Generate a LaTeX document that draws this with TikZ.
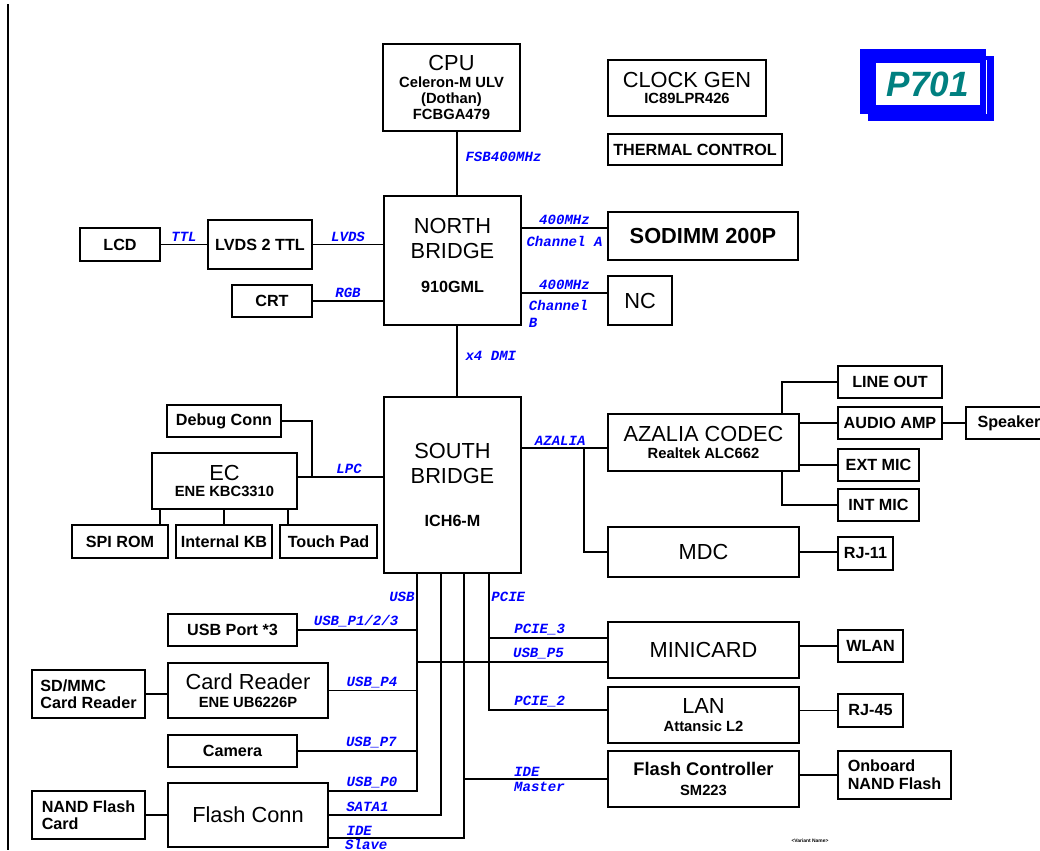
\documentclass[tikz,border=0pt]{standalone}
\usepackage{fontspec}
\setmainfont{Liberation Sans}
\newfontfamily\sigfont{Liberation Mono}
\usetikzlibrary{calc, positioning}
\definecolor{logoTeal}{RGB}{0,128,128}
\newcommand{\pxu}{0.025cm}
\newcommand{\tBig}{\fontsize{15.5}{17}\selectfont\mdseries}
\newcommand{\tMid}{\fontsize{11.5}{12.5}\selectfont\bfseries}
\newcommand{\tSub}{\fontsize{10.5}{11.5}\selectfont\bfseries}
\newcommand{\tNum}{\fontsize{11.5}{12.5}\selectfont\bfseries}
\newcommand{\tFc}{\fontsize{13}{14}\selectfont\bfseries}
\tikzset{
    blk/.style={draw, line width=1.2pt, fill=white, inner sep=1pt, align=center, font=\tMid},
    wire/.style={line width=1.1pt},
    sig/.style={text=blue, inner sep=1.5pt, align=left, font=\sigfont\fontsize{10}{10.5}\selectfont\bfseries\itshape},
}
\newcommand{\blkBox}[7][]{
    \node[blk, minimum width={(#5-#3)*\pxu}, minimum height={(#6-#4)*\pxu}, #1] (#2) at ({(#3+#5)/2}, {(#4+#6)/2}) {#7};
}

\begin{document}
\begin{tikzpicture}[x=0.025cm, y=-0.025cm]
    \useasboundingbox (0,0) rectangle (1040,850);

    % page frame and logo
    \draw[line width=1pt] (8,4) -- (8,850);
    \fill[blue] (868,56) rectangle (994,121);
    \fill[blue] (860,49) rectangle (986,114);
    \draw[white, line width=0.8pt] (986.5,60) -- (986.5,114);
    \fill[white] (876,63) rectangle (980,105);
    \node[text=logoTeal, font=\fontsize{25}{28}\selectfont\bfseries\itshape] (logo) at (928,84) {P701};

    % host side
    \blkBox{cpu}{383}{44}{520}{131}{{\tBig CPU}\\{\tSub Celeron-M ULV}\\[-1.2pt]{\tSub (Dothan)}\\[-1.2pt]{\tSub FCBGA479}}
    \blkBox{clk}{608}{60}{766}{116}{{\tBig CLOCK GEN}\\[-0.5pt]{\tSub IC89LPR426}}
    \blkBox{therm}{608}{134}{782}{165}{THERMAL CONTROL}
    \blkBox{nb}{384}{196}{521}{325}{{\tBig NORTH}\\[5.2pt]{\tBig BRIDGE}\\[11.5pt]{\tNum 910GML}\\[-5.5pt]{}}
    \blkBox{lcd}{80}{228}{160}{261}{LCD}
    \blkBox{lvds}{208}{220}{312}{269}{LVDS 2 TTL}
    \blkBox{crt}{232}{285}{312}{317}{CRT}
    \blkBox{sodimm}{608}{212}{798}{260}{{\tBig\bfseries SODIMM 200P}}
    \blkBox{nc}{608}{276}{672}{325}{{\tBig NC}}
    \blkBox{sb}{384}{397}{521}{573}{{\tBig SOUTH}\\[5.2pt]{\tBig BRIDGE}\\[18pt]{\tNum ICH6-M}}

    % EC side
    \blkBox{dbg}{167}{405}{281}{437}{Debug Conn}
    \blkBox{ec}{152}{453}{297}{509}{{\tBig EC}\\[-1.2pt]{\tSub ENE KBC3310}}
    \blkBox{spi}{72}{525}{168}{558}{SPI ROM}
    \blkBox{kb}{176}{525}{272}{558}{Internal KB}
    \blkBox{tp}{280}{525}{377}{558}{Touch Pad}

    % audio / modem
    \blkBox{codec}{608}{414}{799}{471}{{\tBig AZALIA CODEC}\\{\tSub Realtek ALC662}}
    \blkBox{mdc}{608}{527}{799}{577}{{\tBig MDC}}
    \blkBox{lineout}{838}{366}{942}{398}{LINE OUT}
    \blkBox{amp}{838}{407}{942}{439}{AUDIO AMP}
    \blkBox{spk}{966}{407}{1052}{439}{Speaker}
    \blkBox{extmic}{838}{449}{919}{481}{EXT MIC}
    \blkBox{intmic}{838}{489}{919}{521}{INT MIC}
    \blkBox{rj11}{838}{537}{893}{570}{RJ-11}

    % usb / storage
    \blkBox{usbp}{168}{614}{297}{646}{USB Port *3}
    \blkBox{cr}{168}{663}{328}{718}{{\tBig Card Reader}\\{\tSub ENE UB6226P}}
    \blkBox[align=left]{sdmmc}{32}{670}{145}{718}{SD/MMC\\[-0.5pt]Card Reader}
    \blkBox{cam}{168}{735}{297}{767}{Camera}
    \blkBox{fconn}{168}{783}{328}{847}{{\tBig Flash Conn}}
    \blkBox[align=left]{nand}{32}{791}{145}{839}{NAND Flash\\[-0.5pt]Card}

    % pcie side
    \blkBox{mini}{608}{622}{799}{678}{{\tBig MINICARD}}
    \blkBox{wlan}{838}{630}{903}{662}{WLAN}
    \blkBox{lan}{608}{687}{799}{743}{{\tBig LAN}\\{\tSub Attansic L2}}
    \blkBox{rj45}{838}{694}{903}{727}{RJ-45}
    \blkBox{fctl}{608}{751}{799}{807}{{\tFc Flash Controller}\\[1.5pt]{\tSub SM223}}
    \blkBox[align=left]{onb}{838}{751}{951}{799}{Onboard\\[0.3pt]NAND Flash}

    \node[font=\fontsize{3.5}{4}\selectfont\bfseries] (variant) at (810,841) {<Variant Name>};

    % north bridge links
    \draw[wire] (cpu.south -| 457,0) -- node[sig, right=4pt, pos=0.4]{FSB400MHz} (nb.north -| 457,0);
    \draw[wire] (lcd.east) -- node[sig, above]{TTL} (lvds.west);
    \draw[wire] (lvds.east) -- node[sig, above]{LVDS} (nb.west |- lvds.east);
    \draw[wire] (crt.east) -- node[sig, above]{RGB} (nb.west |- crt.east);
    \draw[wire] (nb.east |- 0,228) -- node[sig, above]{400MHz} node[sig, below=4pt]{Channel A} (sodimm.west |- 0,228);
    \draw[wire] (nb.east |- 0,293) -- node[sig, above]{400MHz} node[sig, below right, yshift=-3pt, pos=0.05]{Channel\\[2pt]B} (nc.west |- 0,293);
    \draw[wire] (nb.south -| 457,0) -- node[sig, right=4pt, pos=0.42]{x4 DMI} (sb.north -| 457,0);

    % LPC
    \coordinate (lpcj) at (312,477);
    \draw[wire] (ec.east |- lpcj) -- node[sig, above, pos=0.6]{LPC} (sb.west |- lpcj);
    \draw[wire] (dbg.east) -| (lpcj);
    \draw[wire] (ec.south -| 160,0) -- (spi.north -| 160,0);
    \draw[wire] (ec.south -| kb.north) -- (kb.north);
    \draw[wire] (ec.south -| 288,0) -- (tp.north -| 288,0);

    % azalia
    \coordinate (azj) at (584,448);
    \draw[wire] (sb.east |- azj) -- node[sig, above, pos=0.45]{AZALIA} (codec.west |- azj);
    \draw[wire] (azj) |- (mdc.west);
    \draw[wire] (codec.north -| 782,0) |- (lineout.west);
    \draw[wire] (codec.east |- amp.west) -- (amp.west);
    \draw[wire] (codec.east |- extmic.west) -- (extmic.west);
    \draw[wire] (codec.south -| 782,0) |- (intmic.west);
    \draw[wire] (amp.east) -- (spk.west);
    \draw[wire] (mdc.east) -- (mdc.east -| rj11.west);

    % south bridge buses
    \coordinate (usbT) at (sb.south -| 417,0);
    \coordinate (sataT) at (sb.south -| 441,0);
    \coordinate (ideT) at (sb.south -| 464,0);
    \coordinate (pcieT) at (sb.south -| 489,0);
    \coordinate (p0) at ($(fconn.east)+(0,-24)$);
    \coordinate (ideS) at ($(fconn.east)+(0,23)$);
    \node[sig, left] (lblUsb) at ($(usbT)+(0,23)$) {USB};
    \node[sig, right] (lblPcie) at ($(pcieT)+(0,23)$) {PCIE};

    \draw[wire] (usbT) -- (usbT |- p0) -- node[sig, above right, pos=0.83]{USB\_P0} (p0);
    \draw[wire] (usbp.east) -- node[sig, above right, pos=0.11]{USB\_P1/2/3} (usbp.east -| usbT);
    \draw[wire] (cr.east) -- node[sig, above right, pos=0.17]{USB\_P4} (cr.east -| usbT);
    \draw[wire] (cam.east) -- node[sig, above right, pos=0.38]{USB\_P7} (cam.east -| usbT);
    \draw[wire] (usbT |- 0,662) -- node[sig, above right, pos=0.49]{USB\_P5} (mini.west |- 0,662);
    \draw[wire] (sataT) -- (sataT |- fconn.east) -- node[sig, above right, pos=0.87]{SATA1} (fconn.east);
    \draw[wire] (ideT) -- (ideT |- ideS) -- node[sig, above right, pos=0.89]{IDE} node[sig, below right, inner sep=0.5pt, pos=0.89]{Slave} (ideS);
    \draw[wire] (ideT |- fctl.west) -- node[sig, above right, pos=0.33]{IDE} node[sig, below right, pos=0.33]{Master} (fctl.west);
    \draw[wire] (pcieT) -- (pcieT |- 0,710) -- node[sig, above right, pos=0.19]{PCIE\_2} (lan.west |- 0,710);
    \draw[wire] (pcieT |- 0,638) -- node[sig, above right, pos=0.19]{PCIE\_3} (mini.west |- 0,638);

    % far side devices
    \draw[wire] (mini.east |- wlan.west) -- (wlan.west);
    \draw[wire] (lan.east |- rj45.west) -- (rj45.west);
    \draw[wire] (fctl.east |- onb.west) -- (onb.west);
    \draw[wire] (sdmmc.east) -- (cr.west |- sdmmc.east);
    \draw[wire] (nand.east) -- (fconn.west |- nand.east);

\end{tikzpicture}
\end{document}
